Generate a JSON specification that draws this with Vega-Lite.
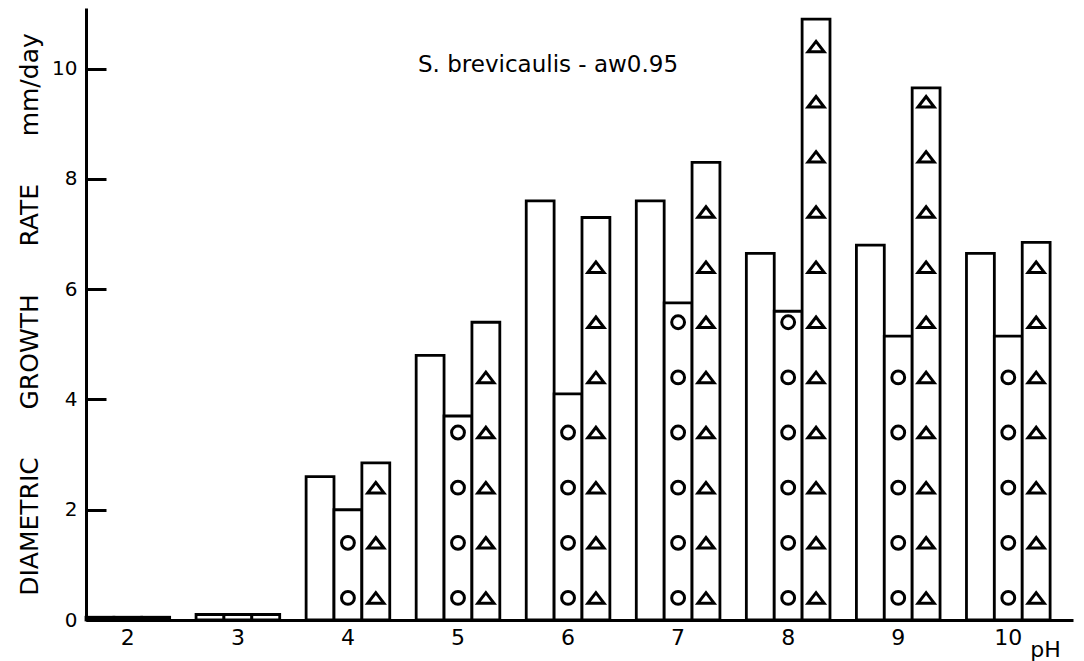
{
  "$schema": "https://vega.github.io/schema/vega-lite/v6.json",
  "width": 987,
  "height": 612,
  "autosize": {"type": "none"},
  "padding": {"left": 86, "top": 8, "right": 11, "bottom": 41},
  "background": "white",
  "config": {
    "view": {"stroke": null, "fill": null},
    "font": "DejaVu Sans"
  },
  "title": {
    "text": "S. brevicaulis - aw0.95",
    "fontSize": 23,
    "fontWeight": "normal",
    "color": "black",
    "anchor": "start",
    "frame": "group",
    "dx": 332,
    "offset": -87,
    "baseline": "alphabetic"
  },
  "datasets": {
    "bars": [
      {"pH": 2, "series": "plain", "rate": 0.05},
      {"pH": 2, "series": "circle", "rate": 0.05},
      {"pH": 2, "series": "triangle", "rate": 0.05},
      {"pH": 3, "series": "plain", "rate": 0.1},
      {"pH": 3, "series": "circle", "rate": 0.1},
      {"pH": 3, "series": "triangle", "rate": 0.1},
      {"pH": 4, "series": "plain", "rate": 2.6},
      {"pH": 4, "series": "circle", "rate": 2.0},
      {"pH": 4, "series": "triangle", "rate": 2.85},
      {"pH": 5, "series": "plain", "rate": 4.8},
      {"pH": 5, "series": "circle", "rate": 3.7},
      {"pH": 5, "series": "triangle", "rate": 5.4},
      {"pH": 6, "series": "plain", "rate": 7.6},
      {"pH": 6, "series": "circle", "rate": 4.1},
      {"pH": 6, "series": "triangle", "rate": 7.3},
      {"pH": 7, "series": "plain", "rate": 7.6},
      {"pH": 7, "series": "circle", "rate": 5.75},
      {"pH": 7, "series": "triangle", "rate": 8.3},
      {"pH": 8, "series": "plain", "rate": 6.65},
      {"pH": 8, "series": "circle", "rate": 5.6},
      {"pH": 8, "series": "triangle", "rate": 10.9},
      {"pH": 9, "series": "plain", "rate": 6.8},
      {"pH": 9, "series": "circle", "rate": 5.15},
      {"pH": 9, "series": "triangle", "rate": 9.65},
      {"pH": 10, "series": "plain", "rate": 6.65},
      {"pH": 10, "series": "circle", "rate": 5.15},
      {"pH": 10, "series": "triangle", "rate": 6.85}
    ],
    "circles": [
      {"pH": 4, "series": "circle", "rate": 0.4},
      {"pH": 4, "series": "circle", "rate": 1.4},
      {"pH": 5, "series": "circle", "rate": 0.4},
      {"pH": 5, "series": "circle", "rate": 1.4},
      {"pH": 5, "series": "circle", "rate": 2.4},
      {"pH": 5, "series": "circle", "rate": 3.4},
      {"pH": 6, "series": "circle", "rate": 0.4},
      {"pH": 6, "series": "circle", "rate": 1.4},
      {"pH": 6, "series": "circle", "rate": 2.4},
      {"pH": 6, "series": "circle", "rate": 3.4},
      {"pH": 7, "series": "circle", "rate": 0.4},
      {"pH": 7, "series": "circle", "rate": 1.4},
      {"pH": 7, "series": "circle", "rate": 2.4},
      {"pH": 7, "series": "circle", "rate": 3.4},
      {"pH": 7, "series": "circle", "rate": 4.4},
      {"pH": 7, "series": "circle", "rate": 5.4},
      {"pH": 8, "series": "circle", "rate": 0.4},
      {"pH": 8, "series": "circle", "rate": 1.4},
      {"pH": 8, "series": "circle", "rate": 2.4},
      {"pH": 8, "series": "circle", "rate": 3.4},
      {"pH": 8, "series": "circle", "rate": 4.4},
      {"pH": 8, "series": "circle", "rate": 5.4},
      {"pH": 9, "series": "circle", "rate": 0.4},
      {"pH": 9, "series": "circle", "rate": 1.4},
      {"pH": 9, "series": "circle", "rate": 2.4},
      {"pH": 9, "series": "circle", "rate": 3.4},
      {"pH": 9, "series": "circle", "rate": 4.4},
      {"pH": 10, "series": "circle", "rate": 0.4},
      {"pH": 10, "series": "circle", "rate": 1.4},
      {"pH": 10, "series": "circle", "rate": 2.4},
      {"pH": 10, "series": "circle", "rate": 3.4},
      {"pH": 10, "series": "circle", "rate": 4.4}
    ],
    "triangles": [
      {"pH": 4, "series": "triangle", "rate": 0.4},
      {"pH": 4, "series": "triangle", "rate": 1.4},
      {"pH": 4, "series": "triangle", "rate": 2.4},
      {"pH": 5, "series": "triangle", "rate": 0.4},
      {"pH": 5, "series": "triangle", "rate": 1.4},
      {"pH": 5, "series": "triangle", "rate": 2.4},
      {"pH": 5, "series": "triangle", "rate": 3.4},
      {"pH": 5, "series": "triangle", "rate": 4.4},
      {"pH": 6, "series": "triangle", "rate": 0.4},
      {"pH": 6, "series": "triangle", "rate": 1.4},
      {"pH": 6, "series": "triangle", "rate": 2.4},
      {"pH": 6, "series": "triangle", "rate": 3.4},
      {"pH": 6, "series": "triangle", "rate": 4.4},
      {"pH": 6, "series": "triangle", "rate": 5.4},
      {"pH": 6, "series": "triangle", "rate": 6.4},
      {"pH": 7, "series": "triangle", "rate": 0.4},
      {"pH": 7, "series": "triangle", "rate": 1.4},
      {"pH": 7, "series": "triangle", "rate": 2.4},
      {"pH": 7, "series": "triangle", "rate": 3.4},
      {"pH": 7, "series": "triangle", "rate": 4.4},
      {"pH": 7, "series": "triangle", "rate": 5.4},
      {"pH": 7, "series": "triangle", "rate": 6.4},
      {"pH": 7, "series": "triangle", "rate": 7.4},
      {"pH": 8, "series": "triangle", "rate": 0.4},
      {"pH": 8, "series": "triangle", "rate": 1.4},
      {"pH": 8, "series": "triangle", "rate": 2.4},
      {"pH": 8, "series": "triangle", "rate": 3.4},
      {"pH": 8, "series": "triangle", "rate": 4.4},
      {"pH": 8, "series": "triangle", "rate": 5.4},
      {"pH": 8, "series": "triangle", "rate": 6.4},
      {"pH": 8, "series": "triangle", "rate": 7.4},
      {"pH": 8, "series": "triangle", "rate": 8.4},
      {"pH": 8, "series": "triangle", "rate": 9.4},
      {"pH": 8, "series": "triangle", "rate": 10.4},
      {"pH": 9, "series": "triangle", "rate": 0.4},
      {"pH": 9, "series": "triangle", "rate": 1.4},
      {"pH": 9, "series": "triangle", "rate": 2.4},
      {"pH": 9, "series": "triangle", "rate": 3.4},
      {"pH": 9, "series": "triangle", "rate": 4.4},
      {"pH": 9, "series": "triangle", "rate": 5.4},
      {"pH": 9, "series": "triangle", "rate": 6.4},
      {"pH": 9, "series": "triangle", "rate": 7.4},
      {"pH": 9, "series": "triangle", "rate": 8.4},
      {"pH": 9, "series": "triangle", "rate": 9.4},
      {"pH": 10, "series": "triangle", "rate": 0.4},
      {"pH": 10, "series": "triangle", "rate": 1.4},
      {"pH": 10, "series": "triangle", "rate": 2.4},
      {"pH": 10, "series": "triangle", "rate": 3.4},
      {"pH": 10, "series": "triangle", "rate": 4.4},
      {"pH": 10, "series": "triangle", "rate": 5.4},
      {"pH": 10, "series": "triangle", "rate": 6.4}
    ]
  },
  "encoding": {
    "x": {
      "field": "pH",
      "type": "ordinal",
      "scale": {"paddingInner": 0.24, "paddingOuter": 0.104, "align": 0},
      "axis": {
        "title": "pH",
        "labelAngle": 0,
        "ticks": false,
        "domainColor": "black",
        "domainWidth": 3,
        "labelFontSize": 22,
        "labelColor": "black",
        "labelBaseline": "alphabetic",
        "labelPadding": 24,
        "titleFontSize": 22,
        "titleFontWeight": "normal",
        "titleColor": "black",
        "titleX": 959,
        "titleY": 36,
        "titleAlign": "center",
        "titleBaseline": "alphabetic"
      }
    },
    "xOffset": {
      "field": "series",
      "type": "nominal",
      "scale": {"domain": ["plain", "circle", "triangle"], "paddingInner": 0, "paddingOuter": 0}
    },
    "y": {
      "field": "rate",
      "type": "quantitative",
      "scale": {"domain": [0, 11.1], "nice": false, "zero": true},
      "axis": {
        "title": "DIAMETRIC\u00a0\u00a0\u00a0\u00a0\u00a0\u00a0GROWTH\u00a0\u00a0\u00a0\u00a0\u00a0\u00a0RATE\u00a0\u00a0\u00a0\u00a0\u00a0\u00a0mm/day",
        "values": [0, 2, 4, 6, 8, 10],
        "format": "d",
        "grid": false,
        "ticks": true,
        "tickSize": -20,
        "tickWidth": 3,
        "tickColor": "black",
        "domainColor": "black",
        "domainWidth": 3,
        "labelFontSize": 20,
        "labelColor": "black",
        "labelPadding": 29,
        "zindex": 1,
        "titleFontSize": 25,
        "titleFontWeight": "normal",
        "titleColor": "black",
        "titleX": -57,
        "titleY": 306,
        "titleAlign": "center",
        "titleBaseline": "middle"
      }
    }
  },
  "layer": [
    {
      "data": {"name": "bars"},
      "mark": {"type": "bar", "fill": "white", "stroke": "black", "strokeWidth": 2.8}
    },
    {
      "data": {"name": "circles"},
      "mark": {"type": "point", "shape": "circle", "filled": false, "stroke": "black", "strokeWidth": 3, "size": 165, "opacity": 1}
    },
    {
      "data": {"name": "triangles"},
      "mark": {"type": "point", "shape": "M-1,0.65L0,-0.65L1,0.65Z", "filled": false, "stroke": "black", "strokeWidth": 3, "size": 260, "opacity": 1, "dx": -2}
    }
  ]
}
